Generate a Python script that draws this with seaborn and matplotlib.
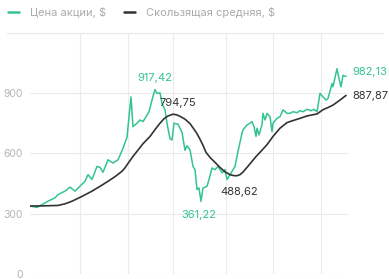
import matplotlib
matplotlib.use("Agg")
import matplotlib.pyplot as plt
import seaborn as sns
import pandas as pd

# --- data -------------------------------------------------------------
price_x = [0, 7, 12, 18, 25, 28, 35, 40, 45, 50, 55, 58, 62, 67, 70, 73, 78, 83, 88,
           93, 97, 101, 103, 107, 110, 113, 116, 119, 122, 125, 127, 130, 132, 135,
           137, 140, 142, 144, 148, 152, 155, 157, 160, 163, 165, 167, 169, 171, 173,
           177, 179, 182, 185, 188, 192, 195, 197, 200, 205, 208, 212, 213, 217, 220,
           222, 224, 226, 227, 229, 232, 233, 235, 237, 240, 242, 243, 247, 250, 253,
           257, 260, 263, 267, 270, 273, 277, 281, 284, 287, 290, 293, 296, 298, 302,
           303, 307, 309, 311, 313, 316]
price = [338, 331, 345, 362, 379, 395, 412, 432, 412, 437, 461, 494, 470, 535, 530,
         506, 568, 552, 568, 625, 680, 881, 733, 750, 766, 758, 782, 807, 865, 917.42,
         898, 901, 849, 816, 750, 672, 667, 750, 745, 705, 615, 638, 618, 535, 519,
         420, 428, 361.22, 428, 436, 470, 527, 519, 535, 503, 519, 470, 494, 535, 610,
         700, 717, 741, 750, 758, 733, 684, 725, 692, 741, 799, 766, 799, 782, 708,
         750, 774, 782, 816, 799, 799, 807, 802, 812, 807, 819, 812, 819, 807, 898,
         881, 865, 873, 947, 931, 1021, 972, 931, 988, 982.13]

ma_x = [0, 15, 28, 35, 42, 52, 62, 70, 78, 85, 92, 95, 98, 103, 107, 113, 120, 125,
        130, 134, 138, 143, 147, 150, 155, 160, 164, 167, 170, 173, 176, 180, 185,
        190, 195, 200, 204, 207, 210, 213, 217, 222, 226, 230, 237, 243, 250, 257,
        263, 270, 277, 282, 287, 293, 298, 303, 310, 316]
ma = [338, 339, 341, 349, 362, 386, 412, 436, 461, 484, 511, 528, 550, 585, 610, 648,
      684, 718, 750, 772, 786, 794.75, 791, 784, 770, 748, 720, 698, 670, 640, 605,
      580, 555, 530, 508, 494, 489, 488.62, 494, 507, 530, 560, 584, 605, 643, 684,
      725, 753, 763, 774, 786, 791, 796, 817, 828, 840, 865, 887.87]

label_price = "Цена акции, $"
label_ma = "Скользящая средняя, $"
y_ticks = [0, 300, 600, 900]
v_grid = [50, 98, 143, 196, 243, 291]

# --- style ------------------------------------------------------------
sns.set_theme(style="white")
plt.rcParams["font.family"] = ["Inter", "DejaVu Sans"]

GREEN = "#33c48e"
DARK = "#333333"
GRID = "#ebebeb"
TICK = "#b4b4b4"

df_p = pd.DataFrame({"x": price_x, "y": price, "s": label_price})
df_m = pd.DataFrame({"x": ma_x, "y": ma, "s": label_ma})

fig = plt.figure(figsize=(3.89, 2.79), dpi=100)
ax = fig.add_axes([30 / 389, 5 / 279, 318 / 389, 241.3 / 279])

for v in y_ticks:
    ax.axhline(v, color=GRID, lw=0.8, zorder=0)
for v in v_grid:
    ax.axvline(v, color=GRID, lw=0.8, zorder=0)
ax.axhline(1200, xmin=(7 - 30) / 318, xmax=(383 - 30) / 318, color=GRID, lw=0.9,
           clip_on=False, zorder=0)

sns.lineplot(data=df_p, x="x", y="y", ax=ax, color=GREEN, lw=1.1, label=label_price)
sns.lineplot(data=df_m, x="x", y="y", ax=ax, color=DARK, lw=1.2, label=label_ma)

ax.set_xlim(0, 318)
ax.set_ylim(0, 1200)
ax.set_yticks(y_ticks)
ax.set_yticklabels([str(v) for v in y_ticks])
ax.set_xticks([])
ax.set_xlabel("")
ax.set_ylabel("")
ax.tick_params(axis="y", length=0, pad=5, labelsize=7.5, labelcolor=TICK)
for s in ax.spines.values():
    s.set_visible(False)

# annotations
fs = 8
i = price.index(917.42)
ax.annotate("917,42", (price_x[i], price[i]), xytext=(0, 8.5), textcoords="offset points",
            ha="center", va="center", color=GREEN, fontsize=fs)
i = price.index(361.22)
ax.annotate("361,22", (price_x[i], price[i]), xytext=(-1.5, -10), textcoords="offset points",
            ha="center", va="center", color=GREEN, fontsize=fs)
i = ma.index(794.75)
ax.annotate("794,75", (ma_x[i], ma[i]), xytext=(3.5, 8), textcoords="offset points",
            ha="center", va="center", color=DARK, fontsize=fs)
i = ma.index(488.62)
ax.annotate("488,62", (ma_x[i], ma[i]), xytext=(1.5, -12), textcoords="offset points",
            ha="center", va="center", color=DARK, fontsize=fs)
ax.annotate("982,13", (price_x[-1], price[-1]), xytext=(4.3, 3), textcoords="offset points",
            ha="left", va="center", color=GREEN, fontsize=fs, annotation_clip=False)
ax.annotate("887,87", (ma_x[-1], ma[-1]), xytext=(4.3, -0.5), textcoords="offset points",
            ha="left", va="center", color=DARK, fontsize=fs, annotation_clip=False)

leg = ax.legend(loc="center left", bbox_to_anchor=(8 / 389, 1 - 12 / 279),
                bbox_transform=fig.transFigure, ncol=2, frameon=False,
                handlelength=1.0, handletextpad=1.0, columnspacing=1.6,
                fontsize=8, borderaxespad=0, borderpad=0)
for t in leg.get_texts():
    t.set_color("#aaaaaa")
for h in leg.get_lines():
    h.set_linewidth(1.8)

fig.savefig("out.png", dpi=100)
